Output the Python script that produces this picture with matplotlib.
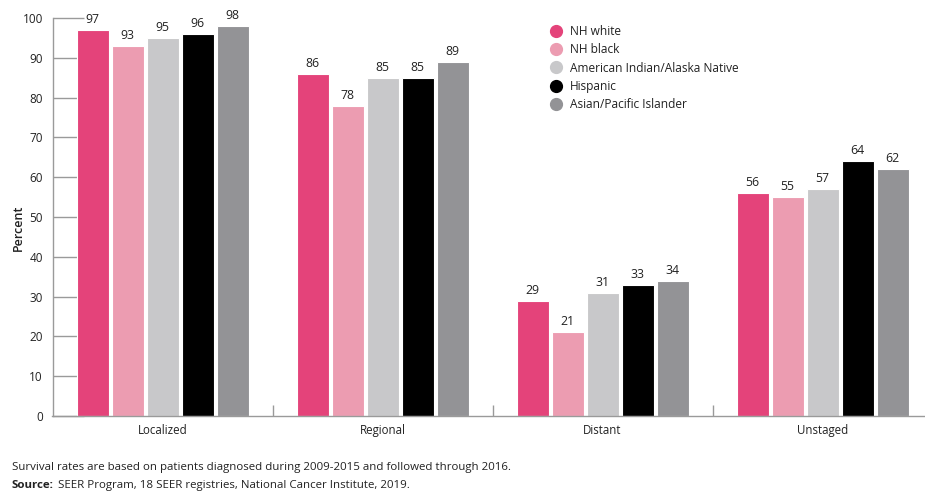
import matplotlib
matplotlib.use("Agg")
import matplotlib.pyplot as plt
from matplotlib.lines import Line2D
import numpy as np

# Five-year survival by stage and race/ethnicity
stages = ["Localized", "Regional", "Distant", "Unstaged"]
groups = ["NH white", "NH black", "American Indian/Alaska Native",
          "Hispanic", "Asian/Pacific Islander"]
nh_white = [97, 86, 29, 56]
nh_black = [93, 78, 21, 55]
ai_an = [95, 85, 31, 57]
hispanic = [96, 85, 33, 64]
api = [98, 89, 34, 62]
yticks = [0, 10, 20, 30, 40, 50, 60, 70, 80, 90, 100]

series = [nh_white, nh_black, ai_an, hispanic, api]
colors = ["#E4437A", "#EC9CB1", "#C8C8CA", "#000000", "#939396"]

plt.rcParams['font.family'] = ['Open Sans', 'DejaVu Sans']
axis_grey = "#9a9a9a"
text_col = "#222222"

fig = plt.figure(figsize=(9.25, 4.94), dpi=100)
W, H = 925, 494
ax = fig.add_axes([52.5 / W, 1 - 416 / H, 880 / W, 398 / H])

x = np.arange(len(stages))
step = 35 / 220
width = 32 / 220
for j, (vals, c) in enumerate(zip(series, colors)):
    pos = x + (j - 2) * step
    bars = ax.bar(pos, vals, width, color=c, edgecolor="white", linewidth=0.8,
                  label=groups[j], zorder=2)
    for b, v in zip(bars, vals):
        ax.text(b.get_x() + b.get_width() / 2, v + 1.0, str(v), ha="center",
                va="bottom", fontsize=8.8, color=text_col)

ax.set_xlim(-0.5, len(stages) - 0.5)
ax.set_ylim(0, 100)
ax.set_yticks(yticks)
ax.set_xticks(x)
ax.set_xticklabels(stages, fontsize=8.3, color=text_col)
ax.set_xticks(x[:-1] + 0.5, minor=True)
ax.tick_params(axis="x", which="major", length=0, pad=6)
ax.tick_params(axis="x", which="minor", direction="in", length=8,
               color=axis_grey, width=1)
ax.tick_params(axis="y", direction="in", length=22, color=axis_grey, width=1,
               labelsize=8.5, labelcolor=text_col, pad=7)
for s in ["top", "right"]:
    ax.spines[s].set_visible(False)
for s in ["left", "bottom"]:
    ax.spines[s].set_color(axis_grey)
    ax.spines[s].set_linewidth(1)

fig.text(18 / W, 1 - 228 / H, "Percent", rotation=90, fontsize=9,
         color=text_col, fontweight="semibold", ha="center", va="center")

handles = [Line2D([0], [0], marker="o", linestyle="", markersize=8.5,
                  markerfacecolor=c, markeredgecolor=c) for c in colors]
fig.legend(handles, groups, loc="upper left",
           bbox_to_anchor=(538 / W, 1 - 14 / H), frameon=False,
           fontsize=8.6, handletextpad=0.55, labelspacing=0.45,
           handlelength=1.2, labelcolor=text_col)

fig.text(12 / W, 1 - 467 / H,
         "Survival rates are based on patients diagnosed during 2009-2015 "
         "and followed through 2016.", fontsize=8.25, color=text_col,
         va="center")
fig.text(12 / W, 1 - 485 / H, "Source:", fontsize=8.25, fontweight="bold",
         color=text_col, va="center")
fig.text(58 / W, 1 - 485 / H,
         "SEER Program, 18 SEER registries, National Cancer Institute, 2019.",
         fontsize=8.25, color=text_col, va="center")

fig.savefig("out.png", dpi=100)
